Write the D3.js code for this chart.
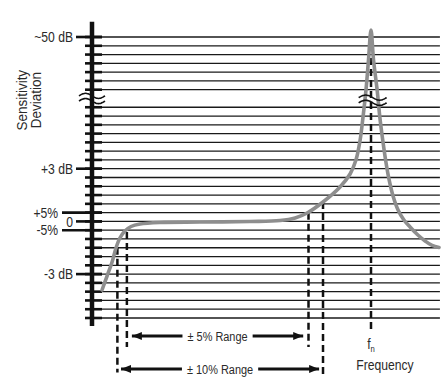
<!DOCTYPE html>
<html><head><meta charset="utf-8">
<script src="https://cdn.jsdelivr.net/npm/d3@7"></script>
<style>
html,body{margin:0;padding:0;background:#fff;}
svg{display:block;}
text{font-family:"Liberation Sans",Arial,sans-serif;fill:#2a2a2a;}
</style></head>
<body>
<script>
// ---- data ----
// gridline levels (index units; level 7 is the axis break)
const gridLevels = [0,1,2,3,4,5,6,8,9,10,11,12,13,14,15,16,17,18,19,20,21,22,23,24,25,26,27,28,29,30,31,32];
const breakLevel = 7;
const tickLevels = [0, 15, 20, 21, 22, 27];
const tickLabels = ["~50 dB", "+3 dB", "+5%", "0", "-5%", "-3 dB"];
// response curve: frequency relative to fn, level units
const curveFreq = [0.036,0.054,0.072,0.086,0.100,0.118,0.140,0.172,0.244,0.387,0.566,0.674,0.728,0.771,0.828,0.889,0.925,0.946,0.961,0.971,0.982,0.991,1.000,1.009,1.022,1.032,1.043,1.054,1.065,1.079,1.097,1.118,1.140,1.168,1.194,1.219,1.244];
const curveLevel = [28.81,27.22,25.62,24.03,22.89,22.09,21.58,21.30,21.12,21.07,21.01,20.90,20.61,20.04,18.79,17.08,15.60,14.01,11.73,9.22,6.04,2.62,-0.80,2.62,6.04,9.22,11.96,14.35,16.28,18.11,19.70,20.84,21.64,22.55,23.23,23.74,23.97];
const freqMax = 1.247;
// range markers (dashed verticals)
const markerFreq = [0.091, 0.125, 0.776, 0.828, 1.0];
const markerTop = [24.0, 22.2, 20.0, 18.8, 2.4];
const markerBottom = [38.2, 35.3, 35.3, 38.8, 33.4];
// range arrows
const rangeLabels = ["\u00b1 5% Range", "\u00b1 10% Range"];
const rangeFrom = [0.143, 0.104];
const rangeTo = [0.757, 0.814];
const rangeLevel = [34.05, 37.8];
const yTitle = ["Sensitivity", "Deviation"];
const xTitle = "Frequency";

// ---- scales ----
const W = 447, H = 382;
const SX = 0.81; // condensed look
const x = d3.scaleLinear().domain([0, 1]).range([92, 371]);
const y = d3.scaleLinear().domain([0, 32]).range([37, 318]);

const svg = d3.select("body").append("svg").attr("width", W).attr("height", H);
svg.append("rect").attr("width", W).attr("height", H).attr("fill", "#fff");

function label(px, py, str, size, anchor) {
  return svg.append("text").attr("transform", `translate(${px},${py}) scale(${SX},1)`)
    .attr("text-anchor", anchor).attr("dy", "0.35em").attr("font-size", size).text(str);
}

// gridlines
svg.append("g").selectAll("line").data(gridLevels).join("line")
  .attr("x1", x(0)).attr("x2", x(freqMax))
  .attr("y1", d => y(d)).attr("y2", d => y(d))
  .attr("stroke", "#1a1a1a").attr("stroke-width", 1.3);

// small ticks
svg.append("g").selectAll("line").data(gridLevels).join("line")
  .attr("x1", x(0) - 7).attr("x2", x(0) + 10)
  .attr("y1", d => y(d)).attr("y2", d => y(d))
  .attr("stroke", "#111").attr("stroke-width", 2.6);

// labelled ticks
tickLevels.forEach((lv, i) => {
  const pct = tickLabels[i].includes("%");
  svg.append("line")
    .attr("x1", pct ? x(0) - 30 : x(0) - 16).attr("x2", x(0) + 10)
    .attr("y1", y(lv)).attr("y2", y(lv))
    .attr("stroke", "#111").attr("stroke-width", 2.6);
  label(pct ? x(0) - 34 : x(0) - 19, y(lv), tickLabels[i], 15, "end");
});

// axis
svg.append("line").attr("x1", x(0)).attr("x2", x(0))
  .attr("y1", y(-1.75)).attr("y2", y(32.9))
  .attr("stroke", "#111").attr("stroke-width", 4.5);

// y title
const yt = svg.append("text").attr("transform", `translate(27,${y(7.2)}) rotate(-90) scale(0.9,1)`)
  .attr("text-anchor", "middle").attr("font-size", 15).attr("fill", "#333");
yt.append("tspan").attr("x", 0).attr("dy", 0).text(yTitle[0]);
yt.append("tspan").attr("x", 0).attr("dy", 14).text(yTitle[1]);

// dashed markers
svg.append("g").selectAll("line").data(markerFreq).join("line")
  .attr("x1", d => x(d)).attr("x2", d => x(d))
  .attr("y1", (d, i) => y(markerTop[i])).attr("y2", (d, i) => y(markerBottom[i]))
  .attr("stroke", "#111").attr("stroke-width", 2.5).attr("stroke-dasharray", "7,4");

// response curve
const line = d3.line().x(d => x(d[0])).y(d => y(d[1])).curve(d3.curveCatmullRom.alpha(0.5));
svg.append("path").datum(curveFreq.map((f, i) => [f, curveLevel[i]]))
  .attr("d", line).attr("fill", "none").attr("stroke", "#8e8e8e")
  .attr("stroke-width", 3.6).attr("stroke-linecap", "round").attr("stroke-linejoin", "round");

// break symbols
function wave(cx, cy, w) {
  const g = svg.append("g");
  const pts = d3.range(0, 1.0001, 0.05);
  const wl = d3.line().x(t => cx - w / 2 + w * t).y(t => -2.6 * Math.sin(t * 2 * Math.PI)).curve(d3.curveBasis);
  [-2.6, 2.6].forEach(o => {
    g.append("path").attr("d", wl(pts)).attr("transform", `translate(0,${cy + o})`)
      .attr("fill", "none").attr("stroke", "#111").attr("stroke-width", 1.6);
  });
}
wave(x(0), y(breakLevel), 26);
wave(x(1.006), y(breakLevel + 0.2), 28);

// arrows
svg.append("defs").append("marker").attr("id", "ah").attr("viewBox", "0 0 10 8")
  .attr("refX", 10).attr("refY", 4).attr("markerWidth", 10).attr("markerHeight", 8)
  .attr("markerUnits", "userSpaceOnUse").attr("orient", "auto-start-reverse")
  .append("path").attr("d", "M0,0 L10,4 L0,8 Z").attr("fill", "#111");
rangeLabels.forEach((lab, i) => {
  const x1 = x(rangeFrom[i]), x2 = x(rangeTo[i]), yy = y(rangeLevel[i]);
  const t = label((x1 + x2) / 2, yy, lab, 13.5, "middle");
  const bb = t.node().getBBox();
  const half = bb.width * SX / 2, cx = (x1 + x2) / 2;
  svg.append("line").attr("x1", x1).attr("x2", cx - half - 5).attr("y1", yy).attr("y2", yy)
    .attr("stroke", "#111").attr("stroke-width", 3).attr("marker-start", "url(#ah)");
  svg.append("line").attr("x1", cx + half + 5).attr("x2", x2).attr("y1", yy).attr("y2", yy)
    .attr("stroke", "#111").attr("stroke-width", 3).attr("marker-end", "url(#ah)");
});

// x labels
const fn = svg.append("text").attr("transform", `translate(${x(1)},349) scale(${SX},1)`)
  .attr("text-anchor", "middle").attr("font-size", 15);
fn.append("tspan").text("f");
fn.append("tspan").attr("font-size", 9.5).attr("dy", 3).text("n");
svg.append("text").attr("transform", `translate(385,370) scale(${SX},1)`)
  .attr("text-anchor", "middle").attr("font-size", 15).text(xTitle);
</script>
</body></html>
